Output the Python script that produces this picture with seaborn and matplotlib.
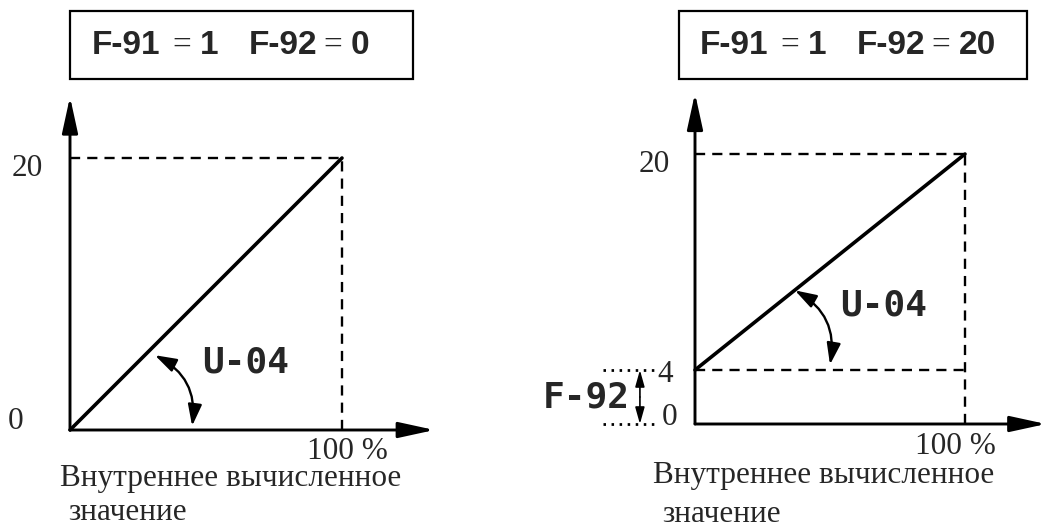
"""
Characteristic of the internal calculated value (F-91 / F-92 / U-04),
two panels: offset F-92 = 0 and F-92 = 20 (zero shifted to 4).
"""

import matplotlib
matplotlib.use("Agg")
import matplotlib.pyplot as plt
import seaborn as sns
from matplotlib.patches import Rectangle

# ── Data ─────────────────────────────────────────────────────────────────────
x_pct      = [0, 100]          # internal value, %
y_left     = [0, 20]           # F-92 = 0
y_right    = [4, 20]           # F-92 = 20 -> start at 4
y_top      = 20
y_offset   = 4
titles     = [("F-91", "1", "F-92", "0"), ("F-91", "1", "F-92", "20")]
x_label    = "100 %"
caption    = ["Внутреннее вычисленное", "значение"]
gain_label = "U-04"
bias_label = "F-92"

# ── Style ────────────────────────────────────────────────────────────────────
sns.set_theme(style="white")
plt.rcParams["font.family"] = ["Liberation Serif", "DejaVu Serif"]

W, H = 1050, 527
SERIF = 22.5
SEG = dict(family="DejaVu Sans Mono", fontweight="bold", fontsize=26)
AX_LW, LINE_LW, GUIDE_LW = 2.1, 2.6, 1.7
DASH = (0, (4.3, 3.0))
DOT = (0, (0.9, 2.0))

fig = plt.figure(figsize=(W / 100, H / 100), dpi=100)


def px_axes(x0, y0, x1, y1):
    # data rectangle [0,100]x[0,20] placed at the given pixel box
    ax = fig.add_axes([x0 / W, 1 - y1 / H, (x1 - x0) / W, (y1 - y0) / H])
    ax.set_xlim(0, 100)
    ax.set_ylim(0, y_top)
    ax.set_axis_off()
    return ax


def arrow(ax, start, end, style="-|>", lw=AX_LW, hl=22, hw=4.8, rad=0.0):
    ax.annotate("", xy=end, xytext=start, annotation_clip=False,
                arrowprops=dict(arrowstyle=f"{style},head_length={hl},head_width={hw}",
                                lw=lw, color="black", shrinkA=0, shrinkB=0,
                                mutation_scale=1,
                                connectionstyle=f"arc3,rad={rad}"))


def title_box(x0, x1, parts, tx):
    fig.patches.append(Rectangle((x0 / W, 1 - 79 / H), (x1 - x0) / W, 68 / H,
                                 transform=fig.transFigure, fill=False,
                                 edgecolor="black", lw=1.6))
    bold = dict(family="Liberation Sans", fontweight="heavy", fontsize=24,
                va="center", ha="left")
    thin = dict(family="Liberation Serif", fontsize=24, va="center", ha="left")
    # F-91 = 1   F-92 = x  (parameter names bold, "=" thin)
    y = 1 - 45 / H
    t = fig.text(tx / W, y, parts[0], **bold)
    fig.canvas.draw()
    x = t.get_window_extent().x1 + 12
    for txt, kw, gap in [("=", thin, 9), (parts[1], bold, 30), (parts[2], bold, 6),
                         ("=", thin, 9), (parts[3], bold, 0)]:
        t = fig.text(x / W, y, txt, **kw)
        x = t.get_window_extent().x1 + gap


def draw_panel(ax, y_vals, x_tip):
    sns.lineplot(x=x_pct, y=y_vals, ax=ax, color="black", lw=LINE_LW,
                 solid_capstyle="round", clip_on=False)
    # guides
    ax.plot([0, x_pct[-1]], [y_top, y_top], color="black", lw=GUIDE_LW,
            ls=DASH, clip_on=False)
    ax.plot([x_pct[-1], x_pct[-1]], [0, y_top], color="black", lw=GUIDE_LW,
            ls=DASH, clip_on=False)
    # axes with arrows
    arrow(ax, (0, 0), (0, 24.5))
    arrow(ax, (0, 0), (x_tip, 0))


# ── Left panel ───────────────────────────────────────────────────────────────
title_box(70, 413, titles[0], 92)
axL = px_axes(70, 158, 342, 430)
draw_panel(axL, y_left, 134)
axL.text(-9.9, 19.2, str(y_top), ha="right", va="center", fontsize=SERIF)
axL.text(-17.3, 0.66, str(y_left[0]), ha="right", va="center", fontsize=SERIF)
axL.text(102, -1.55, x_label, ha="center", va="center", fontsize=SERIF)
axL.text(-3.7, -3.55, caption[0], ha="left", va="center", fontsize=SERIF)
axL.text(-0.7, -6.05, caption[1], ha="left", va="center", fontsize=SERIF)
axL.text(48.5, 4.95, gain_label, ha="left", va="center", **SEG)
arrow(axL, (31.2, 5.5), (44.9, 0.3), style="<|-|>", lw=1.7, hl=13, hw=4.2, rad=-0.35)

# ── Right panel ──────────────────────────────────────────────────────────────
title_box(679, 1027, titles[1], 700)
axR = px_axes(695, 154, 965, 424)
draw_panel(axR, y_right, 130)
axR.plot([0, x_pct[-1]], [y_offset, y_offset], color="black", lw=GUIDE_LW,
         ls=DASH, clip_on=False)
for yy in (0, y_offset):
    axR.plot([-34, -13.5], [yy, yy], color="black", lw=2.0, ls=DOT, clip_on=False)
arrow(axR, (-20.4, 2.0), (-20.4, y_offset), lw=1.2, hl=10, hw=2.8)
arrow(axR, (-20.4, 2.0), (-20.4, 0), lw=1.2, hl=10, hw=2.8)
axR.text(-9.3, 19.2, str(y_top), ha="right", va="center", fontsize=SERIF)
axR.text(-14.0, 3.7, str(y_offset), ha="left", va="center", fontsize=SERIF)
axR.text(-12.2, 0.5, "0", ha="left", va="center", fontsize=SERIF)
axR.text(-40.4, 1.93, bias_label, ha="center", va="center", **SEG)
axR.text(96.3, -1.7, x_label, ha="center", va="center", fontsize=SERIF)
axR.text(-15.6, -3.85, caption[0], ha="left", va="center", fontsize=SERIF)
axR.text(-12.2, -6.7, caption[1], ha="left", va="center", fontsize=SERIF)
axR.text(53.7, 8.8, gain_label, ha="left", va="center", **SEG)
arrow(axR, (37.0, 9.9), (50.0, 4.4), style="<|-|>", lw=1.7, hl=13, hw=4.2, rad=-0.35)

fig.savefig("out.png", dpi=100, facecolor="white")
